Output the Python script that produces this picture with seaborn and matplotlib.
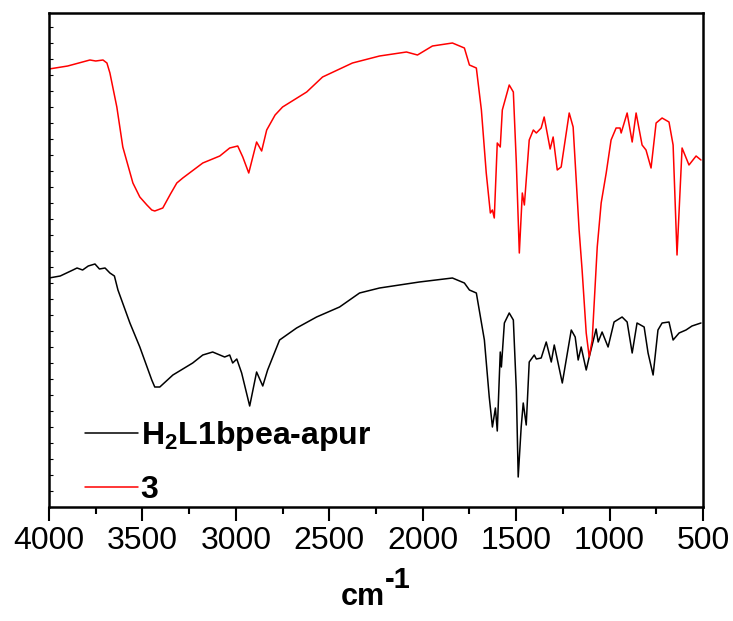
import numpy as np
import pandas as pd
import matplotlib
matplotlib.use("Agg")
import matplotlib.pyplot as plt
from matplotlib.ticker import MultipleLocator, NullFormatter
import seaborn as sns

sns.set_theme(style="white")
plt.rcParams['font.family'] = ['Liberation Sans', 'DejaVu Sans']
plt.rcParams['mathtext.fontset'] = 'custom'
plt.rcParams['mathtext.rm'] = 'Liberation Sans'
plt.rcParams['mathtext.bf'] = 'Liberation Sans:bold'
plt.rcParams['text.color'] = 'black'
plt.rcParams['axes.labelcolor'] = 'black'
plt.rcParams['xtick.color'] = 'black'
plt.rcParams['ytick.color'] = 'black'

# ---- data (wavenumber, cm-1 ; transmittance, arbitrary offset units) ----
wn_red = [4000, 3900, 3781, 3750, 3711, 3690, 3674, 3637, 3605, 3551, 3514, 3476, 3450, 3434,
          3391, 3350, 3316, 3284, 3177, 3086, 3033, 2990, 2963, 2931, 2889, 2862, 2835,
          2790, 2750, 2621, 2536, 2376, 2231, 2087, 2028, 1948, 1841, 1777, 1750, 1713,
          1686, 1660, 1638, 1627, 1617, 1601, 1585, 1574, 1537, 1515, 1499, 1483, 1467,
          1456, 1430, 1408, 1392, 1366, 1350, 1318, 1302, 1280, 1259, 1216, 1195, 1163,
          1147, 1125, 1109, 1093, 1066, 1045, 1018, 992, 965, 944, 938, 906, 879, 858,
          826, 805, 778, 751, 719, 682, 660, 639, 612, 575, 537, 511]
t_red = [438, 441, 447, 446, 447, 444, 434, 400, 360, 324, 310, 302, 297, 296,
         299, 313, 324, 329, 344, 351, 359, 361, 350, 334, 365, 356, 377,
         392, 400, 415, 430, 444, 451, 455, 452, 461, 464, 459, 442, 439,
         397, 334, 294, 297, 289, 364, 360, 397, 422, 415, 344, 254, 314,
         302, 367, 377, 374, 379, 390, 358, 370, 337, 340, 394, 380, 277,
         237, 174, 150, 167, 260, 304, 334, 367, 379, 379, 374, 394, 365, 394,
         362, 357, 339, 384, 389, 385, 362, 252, 359, 342, 351, 347]

wn_black = [4000, 3940, 3872, 3850, 3820, 3790, 3754, 3730, 3700, 3674, 3650, 3631, 3567,
            3514, 3450, 3434, 3407, 3337, 3231, 3177, 3124, 3060, 3033, 3017, 2995, 2969, 2926,
            2889, 2856, 2830, 2766, 2675, 2568, 2445, 2338, 2231, 2018, 1841, 1777, 1750,
            1713, 1670, 1644, 1627, 1611, 1601, 1585, 1579, 1563, 1537, 1515, 1499, 1489,
            1473, 1462, 1446, 1430, 1403, 1392, 1366, 1339, 1312, 1296, 1253, 1205, 1184,
            1168, 1152, 1125, 1109, 1072, 1061, 1040, 1008, 976, 933, 906, 879, 853, 815,
            794, 767, 741, 719, 682, 660, 628, 591, 559, 511]
t_black = [229, 231, 237, 239, 237, 241, 243, 238, 239, 234, 231, 217, 184,
           160, 127, 120, 120, 132, 144, 152, 155, 150, 152, 144, 148, 134, 101,
           135, 121, 137, 167, 179, 190, 200, 214, 219, 225, 229, 224, 217,
           214, 167, 110, 80, 99, 76, 155, 140, 184, 194, 187, 117, 30,
           80, 104, 82, 145, 152, 148, 149, 165, 145, 162, 124, 177, 170,
           147, 160, 137, 150, 178, 165, 175, 160, 185, 190, 185, 154, 184, 180,
           154, 132, 177, 184, 185, 167, 174, 177, 181, 184]

label_black = r'H$_\mathbf{2}$L1bpea-apur'
label_red = '3'
x_ticks = [4000, 3500, 3000, 2500, 2000, 1500, 1000, 500]
x_label = 'cm'
x_label_sup = '-1'

df_black = pd.DataFrame({'wn': wn_black, 't': t_black})
df_red = pd.DataFrame({'wn': wn_red, 't': t_red})

fig = plt.figure(figsize=(7.33, 6.21), dpi=100)
ax = fig.add_axes([49/733, 1 - 507/621, (703 - 49)/733, (507 - 13)/621])

sns.lineplot(data=df_black, x='wn', y='t', ax=ax, color='black', lw=1.1,
             estimator=None, label=label_black)
sns.lineplot(data=df_red, x='wn', y='t', ax=ax, color='#ff0000', lw=1.1,
             estimator=None, label=label_red)

ax.set_xlim(4000, 500)
ax.set_ylim(0, 494)
ax.set_xticks(x_ticks)
ax.set_xticklabels([str(v) for v in x_ticks], fontsize=23)
ax.xaxis.set_minor_locator(MultipleLocator(250))
ax.tick_params(axis='x', which='major', direction='out', length=10, width=1.5,
               bottom=True, pad=4)
ax.tick_params(axis='x', which='minor', direction='out', length=5, width=1.5, bottom=True)
ax.yaxis.set_major_locator(MultipleLocator(16))
ax.yaxis.set_major_formatter(NullFormatter())
ax.tick_params(axis='y', which='major', direction='in', length=3, width=0.8, left=True)
ax.set_ylabel('')
ax.set_xlabel(x_label, fontsize=22, fontweight='bold')
ax.xaxis.set_label_coords((363 - 49) / 654, -0.152)
ax.annotate(x_label_sup, xy=(1.0, 0.6), xycoords=ax.xaxis.label,
            fontsize=21, fontweight='bold', ha='left', va='bottom')
for s in ax.spines.values():
    s.set_linewidth(1.8)
    s.set_color('black')

leg = ax.legend(loc='lower left', bbox_to_anchor=(36/654, 2/494), frameon=False,
                prop={'size': 23, 'weight': 'bold'}, handlelength=1.66,
                handletextpad=0.08, labelspacing=0.68, borderaxespad=0, borderpad=0)
for line in leg.get_lines():
    line.set_linewidth(1.1)

fig.savefig('out.png', dpi=100)
